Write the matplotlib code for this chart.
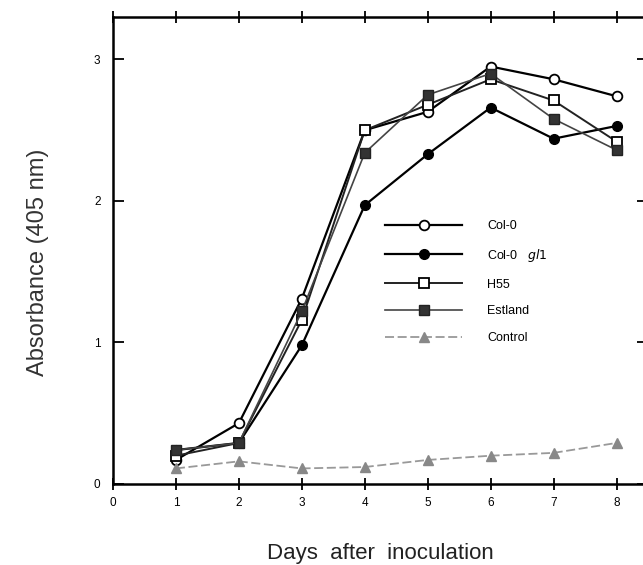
import numpy as np
import matplotlib
matplotlib.use("Agg")
import matplotlib.pyplot as plt

# data
days = [1, 2, 3, 4, 5, 6, 7, 8]
col0 = [0.17, 0.43, 1.31, 2.50, 2.63, 2.95, 2.86, 2.74]
col0_gl1 = [0.24, 0.29, 0.98, 1.97, 2.33, 2.66, 2.44, 2.53]
h55 = [0.20, 0.29, 1.16, 2.50, 2.68, 2.86, 2.71, 2.42]
estland = [0.24, 0.29, 1.22, 2.34, 2.75, 2.90, 2.58, 2.36]
control = [0.11, 0.16, 0.11, 0.12, 0.17, 0.20, 0.22, 0.29]

xticks = [0, 1, 2, 3, 4, 5, 6, 7, 8]
yticks = [0, 1, 2, 3]

plt.rcParams['font.family'] = ['Liberation Sans', 'DejaVu Sans']

fig = plt.figure(figsize=(6.43, 5.65), dpi=100)
# axes runs a little past the right edge like the scanned original
ax = fig.add_axes([113/643, 81/565, 535/643, 467/565])

ax.plot(days, col0, '-o', color='black', lw=1.6, ms=7, mfc='white', mec='black', mew=1.3, label='Col-0')
ax.plot(days, col0_gl1, '-o', color='black', lw=1.6, ms=7, mfc='black', mec='black', label='Col-0   $\\it{gl1}$')
ax.plot(days, h55, '-s', color='#222222', lw=1.4, ms=7, mfc='white', mec='black', mew=1.3, label='H55')
ax.plot(days, estland, '-s', color='#444444', lw=1.2, ms=6.5, mfc='#333333', mec='#222222', label='Estland')
ax.plot(days, control, '--^', color='#999999', lw=1.3, ms=6.5, mfc='#888888', mec='#888888',
        dashes=(5, 2), label='Control')

ax.set_xlim(0, 8.5)
ax.set_ylim(0, 3.3)
ax.set_xticks(xticks)
ax.set_yticks(yticks)
ax.tick_params(axis='x', direction='inout', length=9, width=1.3, labelsize=8.5, pad=5)
ax.tick_params(axis='y', direction='in', length=8, width=1.3, labelsize=8.5, pad=9)
ax.tick_params(top=True, right=True, which='both')
for s in ax.spines.values():
    s.set_linewidth(1.8)

ax.set_xlabel('Days  after  inoculation', fontsize=16, color='#222222')
ax.xaxis.set_label_coords(0.5, -0.127)
ax.set_ylabel('Absorbance (405 nm)', fontsize=17, color='#333333')
ax.yaxis.set_label_coords(-0.12, 0.475)

ax.legend(loc='upper left', bbox_to_anchor=(0.499, 0.576), frameon=False, fontsize=9,
          handlelength=6.2, handletextpad=2.0, labelspacing=1.18, borderaxespad=0)

fig.savefig('out.png', dpi=100)
